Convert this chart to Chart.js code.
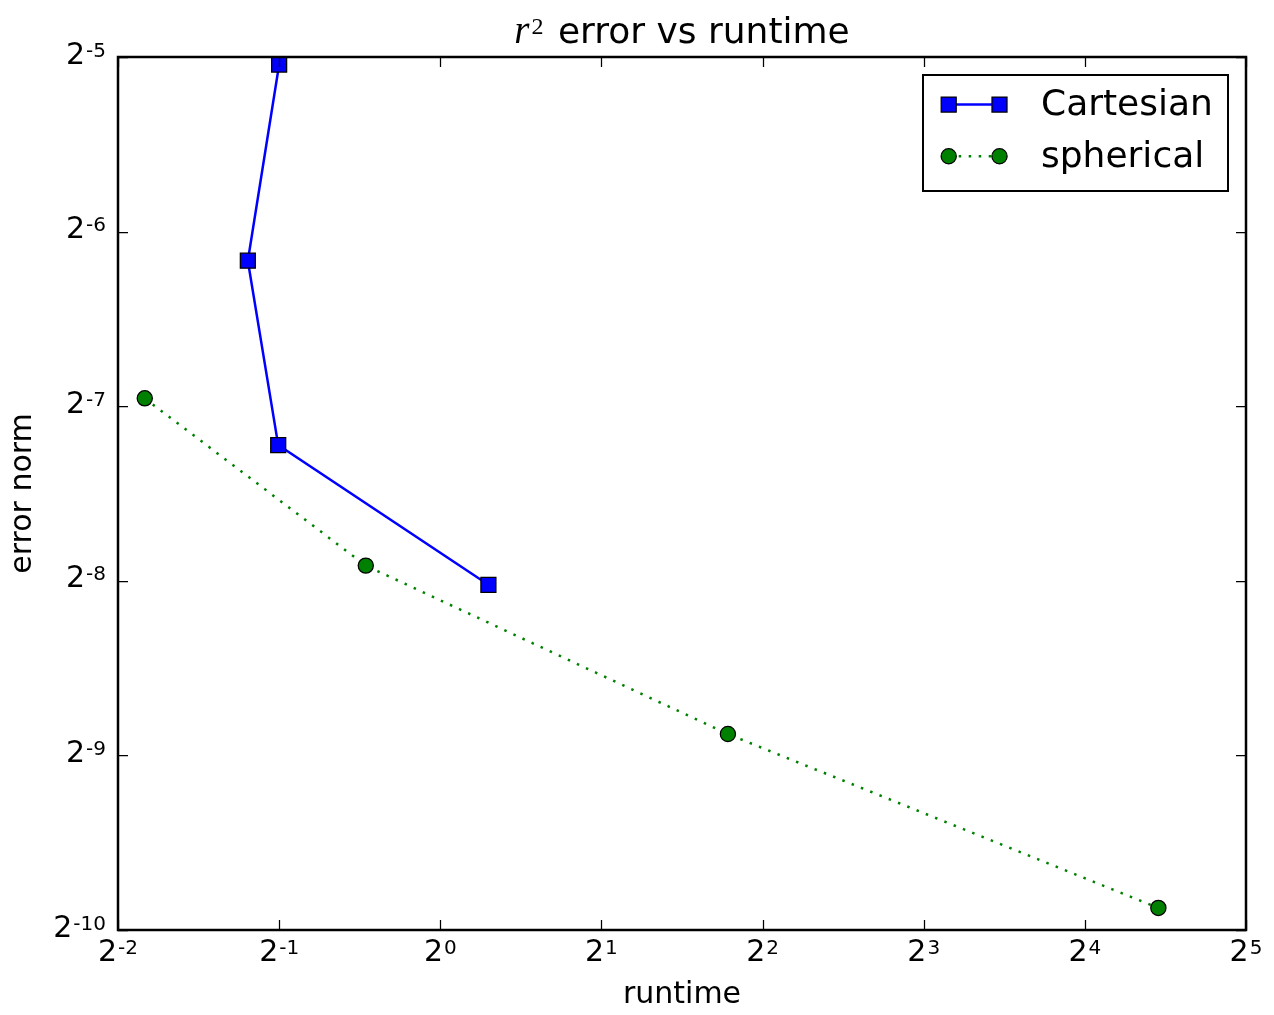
<!DOCTYPE html>
<html><head><meta charset="utf-8">
<script src="https://cdn.jsdelivr.net/npm/chart.js@4.4.0/dist/chart.umd.min.js"></script>
<style>html,body{margin:0;padding:0;background:#fff;}#wrap{width:1274px;height:1015px;}</style>
</head><body><div id="wrap"><canvas id="c" width="1274" height="1015"></canvas></div>
<script>
// ---- data ----
const seriesNames = ['Cartesian', 'spherical'];
const cartesianRuntime = [0.500, 0.437, 0.498, 1.230];
const cartesianError   = [0.03033, 0.01392, 0.006694, 0.003845];
const sphericalRuntime = [0.2805, 0.7258, 3.446, 21.95];
const sphericalError   = [0.008060, 0.004149, 0.002126, 0.001066];
const xTickExponents = [-2, -1, 0, 1, 2, 3, 4, 5];
const yTickExponents = [-10, -9, -8, -7, -6, -5];
const titleText = 'error vs runtime';
const xTitle = 'runtime';
const yTitle = 'error norm';

function toPoints(xs, ys){ return xs.map((x,i)=>({x:x, y:ys[i]})); }
function expOf(v){ return Math.round(Math.log2(v)); }

Chart.defaults.color = '#000';
Chart.defaults.font.family = "'DejaVu Sans', sans-serif";

const BLUE = '#0000ff', GREEN = '#008000';
const BASE_FONT = "30px 'DejaVu Sans', sans-serif";
const SUP_FONT = "20px 'DejaVu Sans', sans-serif";
const SUP_RAISE = 7;

function powWidths(ctx, e){
  ctx.font = BASE_FONT; const wb = ctx.measureText('2').width;
  ctx.font = SUP_FONT; const ws = ctx.measureText(String(e)).width;
  return {wb, ws, total: wb + 1 + ws};
}
function drawPow(ctx, e, x, baseline){
  const w = powWidths(ctx, e);
  ctx.textAlign = 'left'; ctx.textBaseline = 'alphabetic';
  ctx.font = BASE_FONT; ctx.fillText('2', x, baseline);
  ctx.font = SUP_FONT; ctx.fillText(String(e), x + w.wb + 1, baseline - SUP_RAISE);
}

const framePlugin = {
  id: 'frame',
  afterDatasetsDraw(chart){
    const ctx = chart.ctx, a = chart.chartArea;
    const xs = chart.scales.x, ys = chart.scales.y;
    ctx.save();
    ctx.strokeStyle = '#000';
    ctx.lineWidth = 1.25;
    const tl = 10;
    ctx.beginPath();
    xs.ticks.forEach(t => {
      const px = Math.round(xs.getPixelForValue(t.value)) + 0.5;
      ctx.moveTo(px, a.bottom); ctx.lineTo(px, a.bottom - tl);
      ctx.moveTo(px, a.top); ctx.lineTo(px, a.top + tl);
    });
    ys.ticks.forEach(t => {
      const py = Math.round(ys.getPixelForValue(t.value)) + 0.5;
      ctx.moveTo(a.left, py); ctx.lineTo(a.left + tl, py);
      ctx.moveTo(a.right, py); ctx.lineTo(a.right - tl, py);
    });
    ctx.stroke();
    ctx.lineWidth = 2.5;
    ctx.strokeRect(a.left, a.top, a.right - a.left, a.bottom - a.top);
    ctx.restore();
  },
  afterDraw(chart){
    const ctx = chart.ctx, a = chart.chartArea;
    const xs = chart.scales.x, ys = chart.scales.y;
    ctx.save();
    ctx.fillStyle = '#000';
    // ---- tick labels (2 with superscript exponent) ----
    xs.ticks.forEach(t => {
      const e = expOf(t.value);
      const px = xs.getPixelForValue(t.value);
      const w = powWidths(ctx, e);
      drawPow(ctx, e, px - w.total / 2, a.bottom + 31);
    });
    ys.ticks.forEach(t => {
      const e = expOf(t.value);
      const py = ys.getPixelForValue(t.value);
      const w = powWidths(ctx, e);
      drawPow(ctx, e, a.left - 12 - w.total, py + 6.5);
    });

    // ---- title: italic r with superscript 2, then text ----
    const fR = "italic 39px 'Liberation Serif', 'DejaVu Serif', serif";
    const f2 = "24px 'Liberation Serif', 'DejaVu Serif', serif";
    const fT = "36px 'DejaVu Sans', sans-serif";
    ctx.font = fR; const wR = ctx.measureText('r').width;
    ctx.font = f2; const w2 = ctx.measureText('2').width;
    ctx.font = fT; const wS = ctx.measureText(' ').width; const wT = ctx.measureText(titleText).width;
    const gap1 = 2, gap2 = 3;
    const total = wR + gap1 + w2 + gap2 + wS + wT;
    let x0 = (a.left + a.right) / 2 - total / 2;
    const base = 43;
    ctx.textBaseline = 'alphabetic';
    ctx.textAlign = 'left';
    ctx.font = fR; ctx.fillText('r', x0, base);
    ctx.font = f2; ctx.fillText('2', x0 + wR + gap1, base - 9);
    ctx.font = fT; ctx.fillText(titleText, x0 + wR + gap1 + w2 + gap2 + wS, base);

    // ---- legend ----
    const lx = 923, ly = 75, lw = 305, lh = 116;
    ctx.fillStyle = '#fff';
    ctx.fillRect(lx, ly, lw, lh);
    ctx.lineWidth = 2;
    ctx.strokeStyle = '#000';
    ctx.strokeRect(lx, ly, lw, lh);
    const xa = 948.7, xb = 999.5;
    const rows = [
      {y: 104.5, color: BLUE, dash: [], style: 'rect', label: seriesNames[0], base: 115},
      {y: 156.3, color: GREEN, dash: [2.5, 7.5], style: 'circle', label: seriesNames[1], base: 167}
    ];
    rows.forEach(r => {
      ctx.save();
      ctx.strokeStyle = r.color; ctx.lineWidth = 2.5; ctx.setLineDash(r.dash);
      ctx.beginPath(); ctx.moveTo(xa, r.y); ctx.lineTo(xb, r.y); ctx.stroke();
      ctx.restore();
      [xa, xb].forEach(px => {
        ctx.beginPath();
        if (r.style === 'rect') ctx.rect(px - 7.5, r.y - 7.5, 15, 15);
        else ctx.arc(px, r.y, 7.6, 0, Math.PI * 2);
        ctx.fillStyle = r.color; ctx.fill();
        ctx.lineWidth = 1.25; ctx.strokeStyle = '#000'; ctx.stroke();
      });
      ctx.fillStyle = '#000';
      ctx.font = "36px 'DejaVu Sans', sans-serif";
      ctx.textBaseline = 'alphabetic';
      ctx.textAlign = 'left';
      ctx.fillText(r.label, 1041, r.base);
    });
    ctx.restore();
  }
};

new Chart(document.getElementById('c'), {
  type: 'scatter',
  data: {
    datasets: [
      {
        label: seriesNames[0],
        data: toPoints(cartesianRuntime, cartesianError),
        showLine: true,
        borderColor: BLUE, borderWidth: 2.5,
        backgroundColor: BLUE,
        pointStyle: 'rect', pointRadius: 10.6, pointHoverRadius: 10.6,
        pointBackgroundColor: BLUE, pointBorderColor: '#000', pointBorderWidth: 1.25,
        clip: false, order: 2
      },
      {
        label: seriesNames[1],
        data: toPoints(sphericalRuntime, sphericalError),
        showLine: true,
        borderColor: GREEN, borderWidth: 2.5, borderDash: [2.5, 7.5],
        backgroundColor: GREEN,
        pointStyle: 'circle', pointRadius: 7.6, pointHoverRadius: 7.6,
        pointBackgroundColor: GREEN, pointBorderColor: '#000', pointBorderWidth: 1.25,
        clip: false, order: 1
      }
    ]
  },
  options: {
    responsive: false,
    animation: false,
    devicePixelRatio: 1,
    layout: {padding: {top: 57, right: 28, left: 0, bottom: 0}},
    plugins: {legend: {display: false}, title: {display: false}, tooltip: {enabled: false}},
    scales: {
      x: {
        type: 'logarithmic',
        min: Math.pow(2, xTickExponents[0]),
        max: Math.pow(2, xTickExponents[xTickExponents.length - 1]),
        afterBuildTicks: s => { s.ticks = xTickExponents.map(e => ({value: Math.pow(2, e)})); },
        afterFit: s => { s.height = 85; },
        grid: {display: false, drawTicks: false},
        border: {display: false},
        ticks: {display: false, autoSkip: false},
        title: {display: true, text: xTitle, font: {size: 30}, padding: {top: 0, bottom: 2}}
      },
      y: {
        type: 'logarithmic',
        min: Math.pow(2, yTickExponents[0]),
        max: Math.pow(2, yTickExponents[yTickExponents.length - 1]),
        afterBuildTicks: s => { s.ticks = yTickExponents.map(e => ({value: Math.pow(2, e)})); },
        afterFit: s => { s.width = 118; },
        grid: {display: false, drawTicks: false},
        border: {display: false},
        ticks: {display: false, autoSkip: false},
        title: {display: true, text: yTitle, font: {size: 30}, padding: {top: 5, bottom: 0}}
      }
    }
  },
  plugins: [framePlugin]
});
</script></body></html>
